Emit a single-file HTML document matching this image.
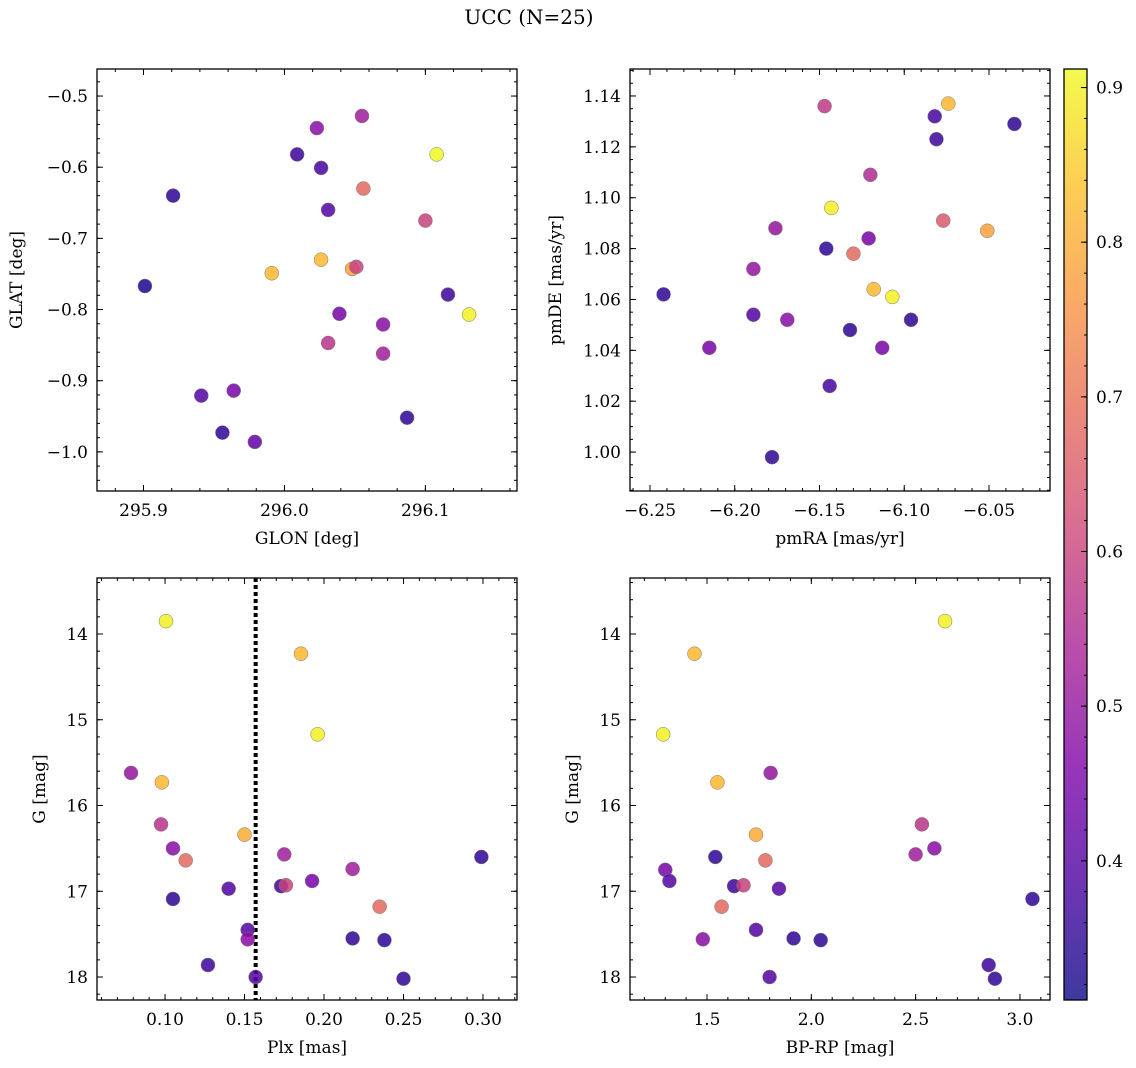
<!DOCTYPE html>
<html><head><meta charset="utf-8"><style>
html,body{margin:0;padding:0;background:#fff;}
svg{display:block;font-family:"DejaVu Serif","Liberation Serif",serif;}
</style></head><body>
<svg id="fig" width="1136" height="1068" viewBox="0 0 1136 1068" xmlns="http://www.w3.org/2000/svg">
<defs><linearGradient id="cbg" x1="0" y1="1" x2="0" y2="0">
<stop offset="0" stop-color="#0d0887"/><stop offset="0.13" stop-color="#4c02a1"/><stop offset="0.25" stop-color="#7e03a8"/><stop offset="0.38" stop-color="#a92395"/><stop offset="0.5" stop-color="#cc4778"/><stop offset="0.63" stop-color="#e66c5c"/><stop offset="0.75" stop-color="#f89540"/><stop offset="0.88" stop-color="#fdc328"/><stop offset="1" stop-color="#f0f921"/></linearGradient></defs>
<text x="529" y="24" text-anchor="middle" font-size="20">UCC (N=25)</text>
</svg>
<script>
// Top-left: GLON vs GLAT
const tlGlon=[295.901,295.921,295.941,295.956,295.964,295.979,296.009,295.991,296.023,296.026,296.026,296.031,296.031,296.039,296.048,296.051,296.055,296.056,296.070,296.070,296.087,296.100,296.108,296.116,296.131];
const tlGlat=[-0.767,-0.640,-0.921,-0.973,-0.914,-0.986,-0.582,-0.749,-0.545,-0.601,-0.730,-0.660,-0.847,-0.806,-0.743,-0.740,-0.528,-0.630,-0.821,-0.862,-0.952,-0.675,-0.582,-0.779,-0.807];
const tlCol=[0.33,0.35,0.40,0.35,0.45,0.42,0.37,0.82,0.48,0.38,0.82,0.40,0.57,0.45,0.78,0.60,0.52,0.68,0.48,0.52,0.35,0.60,0.91,0.37,0.90];
// Top-right: pmRA vs pmDE
const trPmra=[-6.242,-6.215,-6.189,-6.189,-6.176,-6.169,-6.178,-6.147,-6.146,-6.144,-6.143,-6.132,-6.130,-6.121,-6.120,-6.118,-6.113,-6.107,-6.096,-6.082,-6.081,-6.077,-6.074,-6.051,-6.035];
const trPmde=[1.062,1.041,1.072,1.054,1.088,1.052,0.998,1.136,1.080,1.026,1.096,1.048,1.078,1.084,1.109,1.064,1.041,1.061,1.052,1.132,1.123,1.091,1.137,1.087,1.129];
const trCol=[0.35,0.45,0.50,0.40,0.50,0.48,0.35,0.58,0.35,0.38,0.90,0.35,0.68,0.45,0.55,0.82,0.45,0.90,0.35,0.38,0.37,0.65,0.82,0.78,0.35];
// Bottom-left: Plx vs G
const blPlx=[0.0786,0.1006,0.098,0.0975,0.105,0.113,0.105,0.127,0.140,0.150,0.152,0.152,0.157,0.173,0.175,0.176,0.1855,0.1925,0.196,0.218,0.218,0.235,0.238,0.250,0.299];
const blG=[15.62,13.85,15.73,16.22,16.50,16.64,17.09,17.86,16.97,16.34,17.45,17.56,18.00,16.94,16.57,16.93,14.23,16.88,15.17,16.74,17.55,17.18,17.57,18.02,16.60];
const blCol=[0.50,0.90,0.82,0.57,0.48,0.68,0.35,0.37,0.40,0.80,0.40,0.48,0.40,0.37,0.52,0.60,0.82,0.45,0.90,0.52,0.35,0.68,0.35,0.35,0.35];
const plxLine=0.157;
// Bottom-right: BP-RP vs G
const brBprp=[2.641,1.440,1.290,1.805,1.550,2.530,1.540,1.735,1.300,2.500,2.590,1.320,1.630,1.675,1.780,1.845,3.060,1.570,1.735,1.480,1.915,2.045,1.800,2.850,2.880];
const brG=[13.85,14.23,15.17,15.62,15.73,16.22,16.60,16.34,16.75,16.57,16.50,16.88,16.94,16.93,16.64,16.97,17.09,17.18,17.45,17.56,17.55,17.57,18.00,17.86,18.02];
const brCol=[0.90,0.82,0.90,0.50,0.82,0.57,0.35,0.80,0.45,0.52,0.48,0.40,0.37,0.60,0.68,0.40,0.35,0.68,0.40,0.48,0.35,0.35,0.40,0.37,0.35];
// colorbar
const cbTicks=[0.4,0.5,0.6,0.7,0.8,0.9];
const cMin=0.31,cMax=0.912;

const NS="http://www.w3.org/2000/svg";
const svg=document.getElementById('fig');
function mk(t,a,p){const e=document.createElementNS(NS,t);for(const k in a)e.setAttribute(k,a[k]);(p||svg).appendChild(e);return e;}
const stops=[[0,[13,8,135]],[0.13,[76,2,161]],[0.25,[126,3,168]],[0.38,[169,35,149]],[0.5,[204,71,120]],[0.63,[230,108,92]],[0.75,[248,149,64]],[0.88,[253,195,40]],[1,[240,249,33]]];
function plasma(v){let t=Math.max(0,Math.min(1,(v-cMin)/(cMax-cMin)));for(let i=1;i<stops.length;i++){if(t<=stops[i][0]){const a=stops[i-1],b=stops[i];const f=(t-a[0])/(b[0]-a[0]);const c=a[1].map((x,j)=>Math.round(x+(b[1][j]-x)*f));return `rgb(${c})`;}}return 'rgb(240,249,33)';}
function fmt(v,d){return (v<0?'\u2212':'')+Math.abs(v).toFixed(d);}
function range(a,b,s){const r=[];for(let v=a;v<=b+s*1e-6;v+=s)r.push(+v.toFixed(6));return r;}
const FS=17;
function panel(o){
  const g=mk('g',{});
  
  
  const sx=v=>o.x0+(v-o.xd[0])/(o.xd[1]-o.xd[0])*(o.x1-o.x0);
  const sy=v=>o.inv? o.y0+(v-o.yd[0])/(o.yd[1]-o.yd[0])*(o.y1-o.y0) : o.y1-(v-o.yd[0])/(o.yd[1]-o.yd[0])*(o.y1-o.y0);
  const xl=Math.min(...o.xd),xh=Math.max(...o.xd),yl=Math.min(...o.yd),yh=Math.max(...o.yd);
  range(Math.ceil(xl/o.xmin)*o.xmin,xh,o.xmin).forEach(v=>{const x=sx(v);mk('line',{x1:x,x2:x,y1:o.y1,y2:o.y1-3,stroke:'#000'},g);mk('line',{x1:x,x2:x,y1:o.y0,y2:o.y0+3,stroke:'#000'},g);});
  range(Math.ceil(yl/o.ymin)*o.ymin,yh,o.ymin).forEach(v=>{const y=sy(v);mk('line',{x1:o.x0,x2:o.x0+3,y1:y,y2:y,stroke:'#000'},g);mk('line',{x1:o.x1,x2:o.x1-3,y1:y,y2:y,stroke:'#000'},g);});
  o.xt.forEach(v=>{const x=sx(v);mk('line',{x1:x,x2:x,y1:o.y1,y2:o.y1-6,stroke:'#000'},g);mk('line',{x1:x,x2:x,y1:o.y0,y2:o.y0+6,stroke:'#000'},g);
    const t=mk('text',{x:x,y:o.y1+25,'text-anchor':'middle','font-size':FS},g);t.textContent=fmt(v,o.xdec);});
  o.yt.forEach(v=>{const y=sy(v);mk('line',{x1:o.x0,x2:o.x0+6,y1:y,y2:y,stroke:'#000'},g);mk('line',{x1:o.x1,x2:o.x1-6,y1:y,y2:y,stroke:'#000'},g);
    const t=mk('text',{x:o.x0-9,y:y+6,'text-anchor':'end','font-size':FS},g);t.textContent=fmt(v,o.ydec);});
  if(o.vline!==undefined){const x=sx(o.vline);const l=mk('line',{x1:x,x2:x,y1:o.y0,y2:o.y1,stroke:'#000','stroke-width':4,'stroke-dasharray':'4 3'},g);}
  o.xs.forEach((v,i)=>{const c=mk('circle',{cx:sx(v),cy:sy(o.ys[i]),r:7,fill:plasma(o.cs[i]),'fill-opacity':0.85,stroke:'#777','stroke-width':0.5},g);
    });
  const f=mk('rect',{x:o.x0,y:o.y0,width:o.x1-o.x0,height:o.y1-o.y0,fill:'none',stroke:'#000','stroke-width':1.3},g);
  
  const xt=mk('text',{x:(o.x0+o.x1)/2,y:o.y1+53,'text-anchor':'middle','font-size':FS},g);xt.textContent=o.xlab;
  
  const yx=o.ylx,yy=(o.y0+o.y1)/2;const yt=mk('text',{x:yx,y:yy,'text-anchor':'middle','font-size':FS,transform:`rotate(-90 ${yx} ${yy})`},g);yt.textContent=o.ylab;
  
}
panel({name:'glon-glat-panel',x0:97,x1:517,y0:69,y1:491,xd:[295.867,296.165],yd:[-1.055,-0.462],xt:[295.9,296.0,296.1],yt:range(-1.0,-0.5,0.1),xmin:0.02,ymin:0.02,xdec:1,ydec:1,xs:tlGlon,ys:tlGlat,cs:tlCol,xlab:'GLON [deg]',ylab:'GLAT [deg]',ylx:22});
panel({name:'proper-motion-panel',x0:630,x1:1050,y0:69,y1:491,xd:[-6.2618,-6.014],yd:[0.9847,1.1506],xt:range(-6.25,-6.05,0.05),yt:range(1.0,1.14,0.02),xmin:0.01,ymin:0.005,xdec:2,ydec:2,xs:trPmra,ys:trPmde,cs:trCol,xlab:'pmRA [mas/yr]',ylab:'pmDE [mas/yr]',ylx:561});
panel({name:'plx-g-panel',x0:97,x1:517,y0:578,y1:1000,xd:[0.0572,0.3214],yd:[13.347,18.268],inv:true,xt:range(0.1,0.3,0.05),yt:[14,15,16,17,18],xmin:0.01,ymin:0.2,xdec:2,ydec:0,xs:blPlx,ys:blG,cs:blCol,xlab:'Plx [mas]',ylab:'G [mag]',ylx:45,vline:plxLine});
panel({name:'cmd-panel',x0:630,x1:1050,y0:578,y1:1000,xd:[1.131,3.144],yd:[13.347,18.268],inv:true,xt:[1.5,2.0,2.5,3.0],yt:[14,15,16,17,18],xmin:0.1,ymin:0.2,xdec:1,ydec:0,xs:brBprp,ys:brG,cs:brCol,xlab:'BP-RP [mag]',ylab:'G [mag]',ylx:578});
const cb=mk('g',{});
const cy0=69,cy1=1000,cx0=1064,cx1=1087;
const csy=v=>cy1-(v-cMin)/(cMax-cMin)*(cy1-cy0);
mk('rect',{x:cx0,y:cy0,width:cx1-cx0,height:cy1-cy0,fill:'url(#cbg)','fill-opacity':0.8},cb);
range(0.32,0.91,0.02).forEach(v=>{const y=csy(v);mk('line',{x1:cx1,x2:cx1-3,y1:y,y2:y,stroke:'#000'},cb);});
cbTicks.forEach(v=>{const y=csy(v);mk('line',{x1:cx1,x2:cx1-6,y1:y,y2:y,stroke:'#000'},cb);
  const t=mk('text',{x:cx1+9,y:y+6,'font-size':FS},cb);t.textContent=v.toFixed(1);});
mk('rect',{x:cx0,y:cy0,width:cx1-cx0,height:cy1-cy0,fill:'none',stroke:'#000','stroke-width':1.3},cb);
</script>
</body></html>
